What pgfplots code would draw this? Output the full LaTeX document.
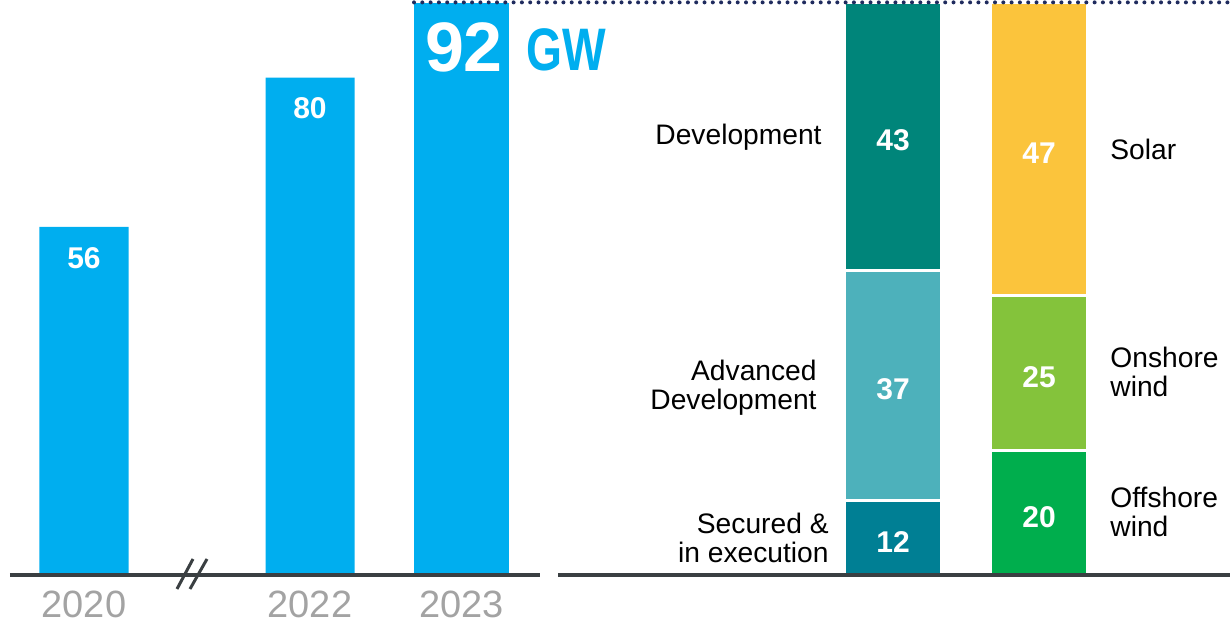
\documentclass[border=0pt]{standalone}
\usepackage{fontspec}
\setmainfont{Liberation Sans}
\usepackage{graphicx}
\usepackage{pgfplots}
\pgfplotsset{compat=1.18}
\definecolor{cblue}{HTML}{00AEEF}
\definecolor{cdev}{HTML}{00857A}
\definecolor{cadv}{HTML}{4DB1BB}
\definecolor{csec}{HTML}{007F94}
\definecolor{csolar}{HTML}{FBC43C}
\definecolor{conshore}{HTML}{84C33B}
\definecolor{coffshore}{HTML}{00AE4D}
\definecolor{caxis}{HTML}{3A3F42}
\definecolor{cyear}{HTML}{A3A3A3}
\definecolor{cdots}{HTML}{1F2B5E}
\pgfplotsset{
  base/.style={
    anchor=south west, x=0.5pt, y=3.1087pt, ymin=0, ymax=92,
    enlargelimits=false, clip=false, axis on top,
    axis y line=none, ytick=\empty,
    /pgf/number format/assume math mode=true,
  },
  seg/.style={draw=white, line width=1.5pt},
  stacklab/.style={
    ybar stacked, bar width=97,
    visualization depends on={rawy \as \rawy},
    nodes near coords={\pgfmathprintnumber{\rawy}},
    every node near coord/.append style={anchor=center, yshift=-2pt, text=white, font=\bfseries\fontsize{15}{15}\selectfont},
  },
}
\tikzset{
  cat/.style={inner sep=0pt, align=#1, font=\fontsize{14.1}{14.5}\selectfont, text=black},
}
\begin{document}
\begin{tikzpicture}
\path[use as bounding box] (0,0) rectangle (615pt,312pt);
% ---------- left: history ----------
\begin{axis}[base, at={(5pt,24.5pt)}, xmin=10, xmax=540,
  axis x line*=bottom, x axis line style={-, line width=2pt, draw=caxis},
  xtick={84,310,461.5}, xticklabels={2020,2022,2023},
  major tick length=0pt, xtick style={draw=none},
  xticklabel style={anchor=base, yshift=-21.5pt, text=cyear, font=\fontsize{19}{19}\selectfont},
]
\addplot[ybar, bar shift=0pt, bar width=89, fill=cblue, draw=none,
  nodes near coords, point meta=y,
  every node near coord/.append style={anchor=center, yshift=-15.5pt, text=white, font=\bfseries\fontsize{15}{15}\selectfont}]
  coordinates {(84,56) (310,80)};
\addplot[ybar, bar shift=0pt, bar width=95, fill=cblue, draw=none] coordinates {(461.5,92)};
\node[text=white, font=\bfseries\fontsize{35}{35}\selectfont] at (axis cs:464,84.8) {92};
\node[text=cblue, font=\bfseries\fontsize{30}{30}\selectfont] at (axis cs:566,84.4) {\scalebox{0.77}[1]{GW}};
\end{axis}
% break mark
\draw[caxis, line width=1.5pt] (88.5pt,17.5pt) -- (96.5pt,32.5pt);
\draw[caxis, line width=1.5pt] (95pt,17.5pt) -- (103.5pt,32.5pt);
% ---------- right: pipeline by technology ----------
\begin{axis}[base, at={(279pt,24.5pt)}, xmin=558, xmax=1230,
  axis x line=none, xtick=\empty, stacklab,
]
\addplot[seg, fill=coffshore] coordinates {(1039,20)};
\addplot[seg, fill=conshore] coordinates {(1039,25)};
\addplot[seg, fill=csolar] coordinates {(1039,47)};
\node[cat=left, anchor=west] at (axis cs:1110,68.4) {Solar};
\node[cat=left, anchor=west] at (axis cs:1110,32.7) {Onshore\\wind};
\node[cat=left, anchor=west] at (axis cs:1110,10.1) {Offshore\\wind};
\end{axis}
% ---------- right: pipeline by stage (draws the baseline on top) ----------
\begin{axis}[base, at={(279pt,24.5pt)}, xmin=558, xmax=1230,
  axis x line*=bottom, x axis line style={-, line width=2pt, draw=caxis},
  xtick=\empty, stacklab,
]
\addplot[seg, fill=csec] coordinates {(893,12)};
\addplot[seg, fill=cadv] coordinates {(893,37)};
\addplot[seg, fill=cdev] coordinates {(893,43)};
\node[cat=right, anchor=east] at (axis cs:822,70.4) {Development};
\node[cat=right, anchor=east] at (axis cs:817,30.2) {Advanced\\Development};
\node[cat=right, anchor=east] at (axis cs:829,5.95) {Secured \&\\in execution};
\end{axis}
% dotted top line
\draw[cdots, line width=2pt, line cap=round, dash pattern=on 0pt off 4.15pt] (207pt,310.8pt) -- (615pt,310.8pt);
\end{tikzpicture}
\end{document}
